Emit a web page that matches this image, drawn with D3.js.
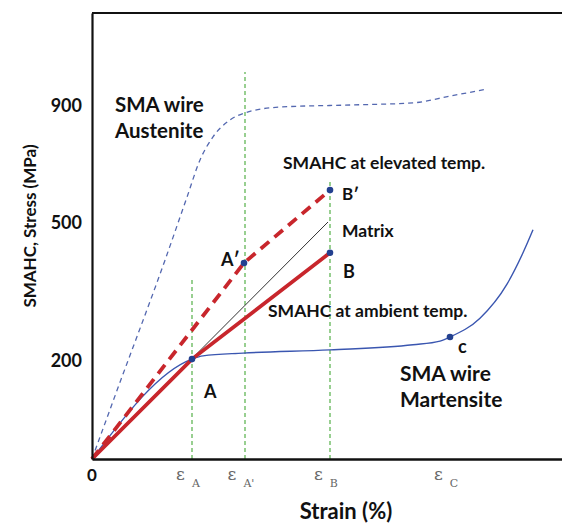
<!DOCTYPE html>
<html><head><meta charset="utf-8">
<script src="https://cdn.jsdelivr.net/npm/d3@7"></script>
<style>
html,body{margin:0;padding:0;background:#fff;}
svg{display:block;}
.lbl{font-family:Lato,"Open Sans",sans-serif;font-weight:700;fill:#111;}
.eps{font-family:"DejaVu Serif",serif;fill:#666;}
</style>
</head><body>
<svg id="chart" width="562" height="523"></svg>
<script>
// ---- data (strain in arbitrary %, stress in MPa) ----
const yTickValues = [200, 500, 900];
const xTickLabels = [
  {x: 0, main: "0", sub: ""},
  {x: 1.00, main: "ε", sub: "A"},
  {x: 1.53, main: "ε", sub: "A'"},
  {x: 2.38, main: "ε", sub: "B"},
  {x: 3.58, main: "ε", sub: "C"}
];
const austenite = [[0,0],[0.24,133],[0.73,417],[0.95,585],[1.08,712],[1.21,791],[1.38,849],[1.53,873],[1.88,893],[2.58,900],[3.21,907],[3.58,929],[3.95,952]];
const martensite = [[0,0],[1.00,202],[1.11,209],[1.51,215],[2.38,222],[3.21,233],[3.48,241],[3.58,250],[3.88,291],[4.15,365],[4.31,433],[4.41,483]];
const ambient = [[0,0],[1.00,202],[2.38,433]];
const elevated = [[0,0],[1.52,411],[2.38,609]];
const matrix = [[0,0],[2.36,500]];
const guides = [{x:1.00, top:374},{x:1.53, top:1008},{x:2.38, top:637}];
const points = [
  {name:"A", x:1.00, y:202},
  {name:"A'", x:1.52, y:411},
  {name:"B", x:2.38, y:433},
  {name:"B'", x:2.38, y:609},
  {name:"C", x:3.58, y:250}
];

const svg = d3.select("#chart");
const x = d3.scaleLinear().domain([0, 4.70]).range([92, 562]);
// schematic (non-uniform) stress axis
const y = d3.scaleLinear().domain([0, 200, 500, 900, 1200]).range([459, 360, 222, 105, 13]);

const line = d3.line().x(d => x(d[0])).y(d => y(d[1]));
const smooth = d3.line().x(d => x(d[0])).y(d => y(d[1])).curve(d3.curveMonotoneX);

// green guides
svg.append("g").selectAll("line").data(guides).join("line")
  .attr("x1", d => x(d.x)).attr("x2", d => x(d.x))
  .attr("y1", y(0)).attr("y2", d => y(d.top))
  .attr("stroke", "#6dbb63").attr("stroke-width", 1.4).attr("stroke-dasharray", "4,3");

// austenite dashed
svg.append("path").datum(austenite).attr("d", smooth)
  .attr("fill", "none").attr("stroke", "#5468b0").attr("stroke-width", 1.3).attr("stroke-dasharray", "5,4");

// martensite
svg.append("path").datum(martensite).attr("d", smooth)
  .attr("fill", "none").attr("stroke", "#3a56b0").attr("stroke-width", 1.4);

// matrix
svg.append("path").datum(matrix).attr("d", line)
  .attr("fill", "none").attr("stroke", "#333").attr("stroke-width", 1);

// SMAHC ambient
svg.append("path").datum(ambient).attr("d", line)
  .attr("fill", "none").attr("stroke", "#c8262c").attr("stroke-width", 3.8);

// SMAHC elevated
svg.append("path").datum(elevated).attr("d", line)
  .attr("fill", "none").attr("stroke", "#c8262c").attr("stroke-width", 3.8).attr("stroke-dasharray", "11,7");

// points
svg.append("g").selectAll("circle").data(points).join("circle")
  .attr("cx", d => x(d.x)).attr("cy", d => y(d.y)).attr("r", 3.3).attr("fill", "#23408f");

// axes frame
const xAxis = d3.axisBottom(x).tickValues([]).tickSize(0).tickSizeOuter(0);
svg.append("g").attr("transform", `translate(0,${y(0)})`).call(xAxis)
  .select(".domain").attr("stroke", "#111").attr("stroke-width", 2.5);
const yAxis = d3.axisLeft(y).tickValues(yTickValues).tickSize(0).tickSizeOuter(0).tickPadding(10);
const gy = svg.append("g").attr("transform", `translate(${x(0)},0)`).call(yAxis);
gy.select(".domain").attr("stroke", "#111").attr("stroke-width", 2.2);
gy.selectAll("text").attr("class", "lbl").attr("font-size", 18).attr("dy", "0.35em").attr("fill", "#111");
// top border
svg.append("line").attr("x1", x(0)).attr("x2", x(4.70)).attr("y1", y(1200)).attr("y2", y(1200))
  .attr("stroke", "#111").attr("stroke-width", 2.2);

// x tick labels
const xt = svg.append("g").selectAll("text").data(xTickLabels).join("text")
  .attr("x", d => x(d.x)).attr("y", 481).attr("text-anchor", "middle");
xt.each(function(d){
  const t = d3.select(this);
  if (d.sub === "") {
    t.attr("class", "lbl").attr("font-size", 17).text(d.main);
  } else {
    t.attr("class", "eps").attr("font-size", 17).attr("y", 480).attr("dx", -4);
    t.append("tspan").text(d.main);
    t.append("tspan").attr("dx", 7).attr("dy", 7).attr("font-size", 11).text(d.sub);
  }
});

// axis titles
svg.append("text").attr("class", "lbl").attr("font-size", 22)
  .attr("x", 346).attr("y", 519).attr("text-anchor", "middle").text("Strain (%)");
svg.append("text").attr("class", "lbl").attr("font-size", 17)
  .attr("transform", "translate(36,226) rotate(-90)").attr("text-anchor", "middle")
  .text("SMAHC, Stress (MPa)");

// annotations
const ann = [
  {t:"SMA wire", x:115, y:112, s:20.5},
  {t:"Austenite", x:115, y:138, s:20.5},
  {t:"SMAHC at elevated temp.", x:283, y:169, s:17.5},
  {t:"B\u2032", x:342, y:200, s:17},
  {t:"Matrix", x:342, y:237, s:17.5},
  {t:"B", x:343, y:278, s:18},
  {t:"A\u2032", x:221, y:266, s:18},
  {t:"SMAHC at ambient temp.", x:268, y:317, s:17.5},
  {t:"A", x:204, y:398, s:18},
  {t:"c", x:458, y:353, s:18},
  {t:"SMA wire", x:400, y:381, s:21},
  {t:"Martensite", x:400, y:407, s:21}
];
svg.append("g").selectAll("text").data(ann).join("text")
  .attr("class", "lbl").attr("x", d => d.x).attr("y", d => d.y).attr("font-size", d => d.s).text(d => d.t);
</script>
</body></html>
